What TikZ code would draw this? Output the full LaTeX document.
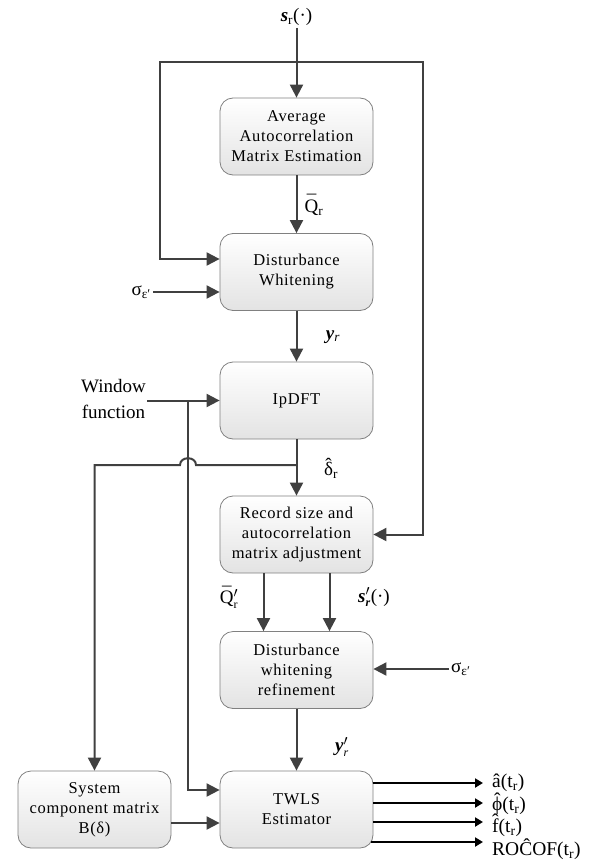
\documentclass[tikz,border=0pt]{standalone}
\usepackage{fontspec}
\setmainfont{Liberation Serif}
\newfontfamily\boxfont[LetterSpace=4]{Liberation Serif}
\usetikzlibrary{arrows.meta,calc}
\newcommand\sbr[1]{\mbox{\fontsize{12}{12}\selectfont #1}}
\newcommand\hatacc[1]{\accent"02C6 #1}
\newcommand\baracc[1]{\accent"00AF #1}
\begin{document}
\begin{tikzpicture}[x=1pt,y=-1pt,
  blk/.style={rounded corners=13pt, draw=black!50, line width=0.8pt,
    top color=white, bottom color=black!11, minimum width=153pt,
    minimum height=77pt, align=center, inner sep=2pt,
    font=\boxfont\fontsize{16.5}{20}\selectfont},
  arr/.style={draw=black!75, line width=2pt, -{Triangle[length=13pt,width=13pt]}},
  ln/.style={draw=black!75, line width=2pt},
  outarr/.style={draw=black, line width=2.6pt, -{Triangle[length=8pt,width=9pt]}},
  lab/.style={font=\fontsize{19}{20}\selectfont, inner sep=2pt},
  olab/.style={font=\fontsize{19.5}{20}\selectfont, inner sep=1pt, anchor=west}]
\useasboundingbox (0,0) rectangle (603,864);

% blocks
\node[blk] (b1) at (296.5,136.5) {Average\\Autocorrelation\\Matrix Estimation};
\node[blk] (b2) at (296.5,272) {Disturbance\\Whitening};
\node[blk] (b3) at (296.5,400.5) {IpDFT};
\node[blk] (b4) at (296.5,534.5) {Record size and\\autocorrelation\\matrix adjustment};
\node[blk] (b5) at (296.5,670) {Disturbance\\whitening\\refinement};
\node[blk] (tw) at (296.5,809.5) {TWLS\\Estimator};
\node[blk] (sys) at (94.5,809.5) {System\\component matrix\\B(δ)};

% input
\node[lab] (src) at (296.5,17) {{\bfseries\itshape s}\textsubscript{r}(·)};
\draw[arr] (src.south) -- (b1.north);

% feedback loop of the input
\coordinate (lp) at (296.5,62);
\coordinate (lpl) at (160,62);
\coordinate (lpr) at (423,62);
\draw[arr] (lp) -- (lpl) |- ([yshift=13pt]b2.west);
\draw[arr] (lp) -- (lpr) |- (b4.east);

% b1 -> b2
\draw[arr] (b1.south) -- (b2.north);
\node[lab] (q1) at (314,205) {\baracc{Q}\textsubscript{r}};

% sigma left
\node[lab, anchor=east] (sig1) at (153,292) {σ\textsubscript{ε′}};
\draw[arr] (sig1.east) -- (sig1.east -| b2.west);

% b2 -> b3
\draw[arr] (b2.south) -- (b3.north);
\node[lab] (y1) at (333,337) {{\bfseries\itshape y}\textsubscript{\itshape r}};

% window function
\node[align=center, anchor=east, inner sep=1pt, font=\fontsize{19}{26}\selectfont] (win) at (147,399) {Window\\function};
\draw[arr] (win.east |- b3.west) -- (b3.west);
\coordinate (wj) at (188,400.5);
\draw[arr] (wj) |- ([yshift=19.5pt]tw.west);

% b3 -> b4 and branch to system matrix
\draw[arr] (b3.south) -- (b4.north);
\node[lab] (d1) at (331,468) {\hatacc{δ}\textsubscript{r}};
\coordinate (dj) at (296.5,465);
\draw[arr] (dj) -- (196,465) .. controls (196,456) and (180,456) .. (180,465)
  -- (sys.north |- dj) -- (sys.north);

% b4 -> b5
\draw[arr] ([xshift=-33pt]b4.south) -- ([xshift=-33pt]b5.north);
\draw[arr] ([xshift=33pt]b4.south) -- ([xshift=33pt]b5.north);
\node[lab] (q2) at (229,597) {\baracc{Q}$'_{\sbr{r}}$};
\node[lab] (s2) at (374,597) {$\mbox{\bfseries\itshape s}'_{\sbr{\bfseries\itshape r}}$(·)};

% sigma right
\node[lab, anchor=west] (sig2) at (449,669) {σ\textsubscript{ε′}};
\draw[arr] (sig2.west) -- (sig2.west -| b5.east);

% b5 -> TWLS
\draw[arr] (b5.south) -- (tw.north);
\node[lab] (y2) at (342,747) {$\mbox{\bfseries\itshape y}'_{\sbr{\itshape r}}$};

% system -> TWLS
\draw[arr] ([yshift=-13.5pt]sys.east) -- ([yshift=-13.5pt]tw.west);

% outputs
\coordinate (e1) at (483,783);
\coordinate (e2) at (483,803);
\coordinate (e3) at (483,822);
\coordinate (e4) at (483,842);
\draw[outarr] (e1 -| tw.east) -- (e1);
\draw[outarr] (e2 -| tw.east) -- (e2);
\draw[outarr] (e3 -| tw.east) -- (e3);
\draw[outarr] ([xshift=-2pt]e4 -| tw.east) -- (e4);
\node[olab] (o1) at (491,783) {â(t\textsubscript{r})};
\node[olab] (o2) at (491,804) {\hatacc{ϕ}(t\textsubscript{r})};
\node[olab] (o3) at (491,825) {\hatacc{f}(t\textsubscript{r})};
\node[olab] (o4) at (491,849) {ROĈOF(t\textsubscript{r})};
\end{tikzpicture}
\end{document}
